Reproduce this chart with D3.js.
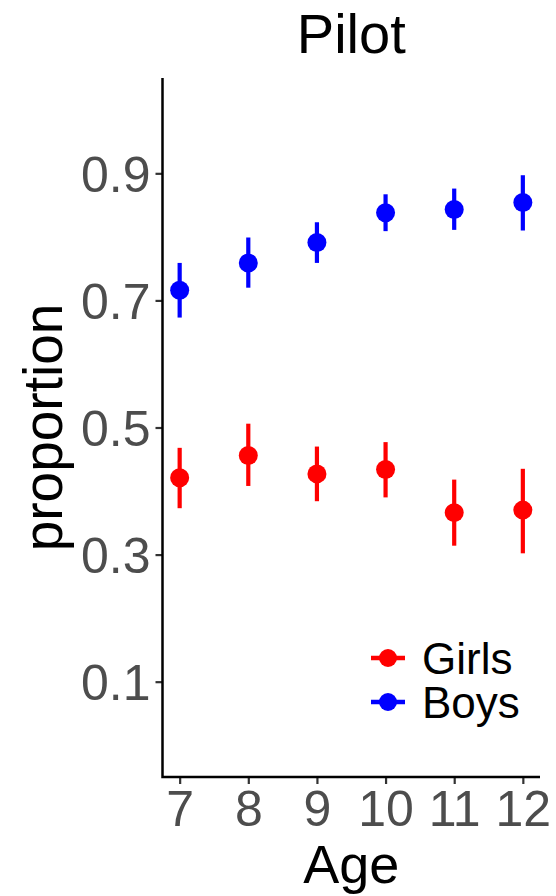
<!DOCTYPE html>
<html>
<head>
<meta charset="utf-8">
<script src="https://cdn.jsdelivr.net/npm/d3@7"></script>
<style>
  body { margin: 0; background: #fff; }
  text { font-family: "Liberation Sans", Arial, sans-serif; }
</style>
</head>
<body>
<svg width="556" height="896"></svg>
<script>
const ages = [7, 8, 9, 10, 11, 12];
const yTicks = [0.1, 0.3, 0.5, 0.7, 0.9];

// girls: estimate and interval
const girlsMean = [0.421, 0.456, 0.427, 0.434, 0.366, 0.370];
const girlsLow  = [0.373, 0.408, 0.384, 0.390, 0.314, 0.302];
const girlsHigh = [0.468, 0.506, 0.470, 0.477, 0.418, 0.435];

// boys
const boysMean = [0.716, 0.759, 0.791, 0.838, 0.843, 0.854];
const boysLow  = [0.673, 0.720, 0.759, 0.809, 0.811, 0.810];
const boysHigh = [0.759, 0.799, 0.823, 0.867, 0.876, 0.897];

const series = [
  { name: "Girls", color: "#FF0000", mean: girlsMean, low: girlsLow, high: girlsHigh },
  { name: "Boys", color: "#0000FF", mean: boysMean, low: boysLow, high: boysHigh }
];

const svg = d3.select("svg");
const margin = { top: 78, right: 16, bottom: 119, left: 162.5 };
const width = +svg.attr("width");
const height = +svg.attr("height");
const graphWidth = width - margin.left - margin.right;
const graphHeight = height - margin.top - margin.bottom;

const xScale = d3.scaleLinear().domain([6.75, 12.25]).range([0, graphWidth]);
const yScale = d3.scaleLinear().domain([-0.05, 1.05]).range([graphHeight, 0]);

const graph = svg.append("g")
  .attr("transform", `translate(${margin.left}, ${margin.top})`);

// axes
const xAxisG = graph.append("g")
  .attr("transform", `translate(0, ${graphHeight})`)
  .call(d3.axisBottom(xScale).tickValues(ages).tickFormat(d3.format("d")).tickSize(7).tickPadding(7));

const yAxisG = graph.append("g")
  .call(d3.axisLeft(yScale).tickValues(yTicks).tickFormat(d3.format(".1f")).tickSize(7).tickPadding(5));

[xAxisG, yAxisG].forEach(g => {
  g.select(".domain").remove();
  g.selectAll(".tick line").attr("stroke", "#333333").attr("stroke-width", 2.2);
  g.selectAll(".tick text")
    .attr("fill", "#4D4D4D")
    .style("font-size", "50px")
    .style("font-family", "'Liberation Sans', Arial, sans-serif");
});
xAxisG.selectAll(".tick text").attr("dy", "0.7em");
yAxisG.selectAll(".tick text").attr("dy", "0.36em");

// axis lines
graph.append("path")
  .attr("d", `M0,0V${graphHeight}H${graphWidth}`)
  .attr("fill", "none")
  .attr("stroke", "black")
  .attr("stroke-width", 2.5);

// point ranges
series.forEach(s => {
  const g = graph.append("g");
  g.selectAll("line")
    .data(ages)
    .enter()
    .append("line")
    .attr("x1", d => xScale(d))
    .attr("x2", d => xScale(d))
    .attr("y1", (d, i) => yScale(s.low[i]))
    .attr("y2", (d, i) => yScale(s.high[i]))
    .attr("stroke", s.color)
    .attr("stroke-width", 4.2);
  g.selectAll("circle")
    .data(ages)
    .enter()
    .append("circle")
    .attr("cx", d => xScale(d))
    .attr("cy", (d, i) => yScale(s.mean[i]))
    .attr("r", 9.5)
    .attr("fill", s.color);
});

// legend
const legend = svg.append("g").attr("transform", "translate(371, 658)");
series.forEach((s, i) => {
  const row = legend.append("g").attr("transform", `translate(0, ${i * 44})`);
  row.append("line")
    .attr("x1", 0).attr("x2", 34)
    .attr("stroke", s.color).attr("stroke-width", 4.5);
  row.append("circle").attr("cx", 17).attr("r", 9).attr("fill", s.color);
  row.append("text")
    .attr("x", 51).attr("y", 0).attr("dy", "0.36em")
    .style("font-size", "44px")
    .attr("fill", "black")
    .text(s.name);
});

// titles
svg.append("text")
  .attr("x", margin.left + graphWidth / 2)
  .attr("y", 53)
  .attr("text-anchor", "middle")
  .style("font-size", "56px")
  .text("Pilot");

svg.append("text")
  .attr("x", margin.left + graphWidth / 2)
  .attr("y", 883)
  .attr("text-anchor", "middle")
  .style("font-size", "54px")
  .text("Age");

svg.append("text")
  .attr("transform", `translate(62, ${margin.top + graphHeight / 2}) rotate(-90)`)
  .attr("text-anchor", "middle")
  .style("font-size", "55px")
  .text("proportion");
</script>
</body>
</html>
